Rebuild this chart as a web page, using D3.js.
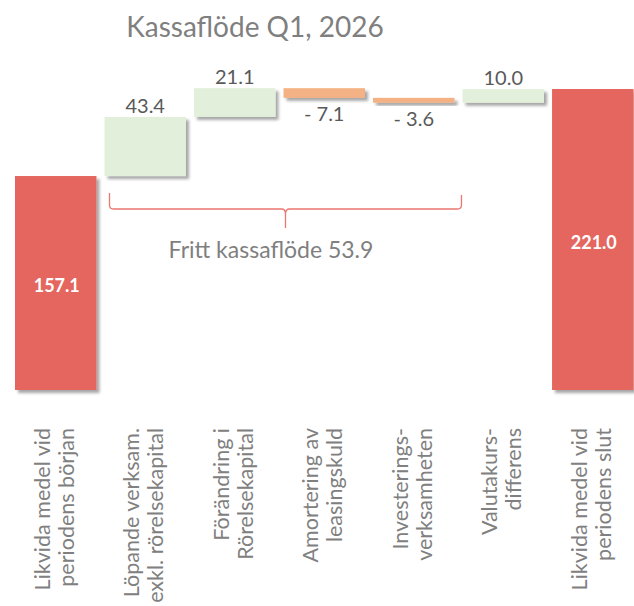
<!DOCTYPE html>
<html>
<head>
<meta charset="utf-8">
<script src="https://cdn.jsdelivr.net/npm/d3@7"></script>
<style>
  body { margin: 0; background: #fff; }
  svg { display: block; font-family: Lato, "Open Sans", sans-serif; }
</style>
</head>
<body>
<svg id="chart" width="634" height="606"></svg>
<script>
// data
let categories = [
    ["Likvida medel vid", "periodens början"],
    ["Löpande verksam.", "exkl. rörelsekapital"],
    ["Förändring i", "Rörelsekapital"],
    ["Amortering av", "leasingskuld"],
    ["Investerings-", "verksamheten"],
    ["Valutakurs-", "differens"],
    ["Likvida medel vid", "periodens slut"]
];
let values = [157.1, 43.4, 21.1, -7.1, -3.6, 10.0, 221.0];
let kinds = ["total", "delta", "delta", "delta", "delta", "delta", "total"];
let labels = ["157.1", "43.4", "21.1", "- 7.1", "- 3.6", "10.0", "221.0"];
let bracketFrom = 1, bracketTo = 4;
let bracketText = "Fritt kassaflöde 53.9";
let title = "Kassaflöde Q1, 2026";

let red = "#e4665e", green = "#e2efda", orange = "#f4b183";

let svg = d3.select("#chart");

// shadow like the office chart
let defs = svg.append("defs");
defs.append("filter").attr("id", "shadow")
    .attr("x", "-20%").attr("y", "-20%").attr("width", "150%").attr("height", "180%")
    .append("feDropShadow")
    .attr("dx", 3).attr("dy", 3).attr("stdDeviation", 1.6)
    .attr("flood-color", "#000").attr("flood-opacity", 0.35);

let base = 390;
let x = d3.scaleBand()
    .domain(d3.range(categories.length))
    .range([15, 633.5])
    .paddingInner(0.09)
    .paddingOuter(0);

let y = d3.scaleLinear()
    .domain([0, 221])
    .range([base, 89]);

// running totals for the waterfall
let bars = [];
let run = 0;
values.forEach((v, i) => {
    let lo, hi;
    if (kinds[i] === "total") {
        lo = 0; hi = v; run = v;
    } else {
        lo = run; hi = run + v; run = hi;
    }
    bars.push({i: i, v: v, kind: kinds[i], y0: Math.min(lo, hi), y1: Math.max(lo, hi)});
});

let color = d => d.kind === "total" ? red : (d.v >= 0 ? green : orange);

// axis line
svg.append("line")
    .attr("x1", 10).attr("x2", 634)
    .attr("y1", base).attr("y2", base)
    .attr("stroke", "#8a8a8a").attr("stroke-width", 1.5)
    .attr("filter", "url(#shadow)");

svg.append("g").selectAll("rect")
    .data(bars)
    .enter().append("rect")
    .attr("x", d => x(d.i))
    .attr("width", x.bandwidth())
    .attr("y", d => y(d.y1))
    .attr("height", d => Math.max(1, y(d.y0) - y(d.y1)))
    .attr("fill", color)
    .attr("filter", "url(#shadow)");

// value labels
svg.append("g").selectAll("text")
    .data(bars)
    .enter().append("text")
    .attr("x", d => x(d.i) + x.bandwidth() / 2 + (d.kind === "total" ? 1 : 0))
    .attr("y", d => {
        if (d.kind === "total") return d.i === 0 ? 292 : 249;
        return d.v >= 0 ? y(d.y1) - 4 : y(d.y0) + 23;
    })
    .attr("text-anchor", "middle")
    .attr("font-size", d => d.kind === "total" ? 18 : 20)
    .attr("font-weight", d => d.kind === "total" ? "bold" : "normal")
    .attr("fill", d => d.kind === "total" ? "#fff" : "#595959")
    .text(d => labels[d.i]);

// bracket under the free cash flow steps
let bx0 = x(bracketFrom) + 5;
let bx1 = x(bracketTo) + x.bandwidth() + 7;
let bm = (bx0 + bx1) / 2;
let bTop = 193, bMid = 209;
let p = d3.path();
p.moveTo(bx0, bTop);
p.lineTo(bx0, bMid - 4);
p.quadraticCurveTo(bx0, bMid, bx0 + 4, bMid);
p.lineTo(bm - 4, bMid);
p.quadraticCurveTo(bm, bMid, bm, bMid + 5);
p.lineTo(bm, 228);
p.moveTo(bm, bMid + 5);
p.quadraticCurveTo(bm, bMid, bm + 4, bMid);
p.lineTo(bx1 - 4, bMid);
p.quadraticCurveTo(bx1, bMid, bx1, bMid - 4);
p.lineTo(bx1, bTop + 2);
svg.append("path")
    .attr("d", p.toString())
    .attr("fill", "none")
    .attr("stroke", "#ea7770")
    .attr("stroke-width", 1.3);

svg.append("text")
    .attr("x", 271).attr("y", 258)
    .attr("text-anchor", "middle")
    .attr("font-size", 23)
    .attr("fill", "#7f7f7f")
    .text(bracketText);

// title
svg.append("text")
    .attr("x", 255).attr("y", 37)
    .attr("text-anchor", "middle")
    .attr("font-size", 28)
    .attr("fill", "#7f7f7f")
    .text(title);

// category labels, rotated
let cat = svg.append("g").selectAll("g")
    .data(categories)
    .enter().append("g")
    .attr("transform", (d, i) => "translate(" + (x(i) + x.bandwidth() / 2) + ",428) rotate(-90)");

cat.selectAll("text")
    .data(d => d)
    .enter().append("text")
    .attr("x", 0)
    .attr("y", (d, j) => j === 0 ? -6 : 18)
    .attr("text-anchor", "end")
    .attr("font-size", 21.5)
    .attr("fill", "#808080")
    .text(d => d);
</script>
</body>
</html>
